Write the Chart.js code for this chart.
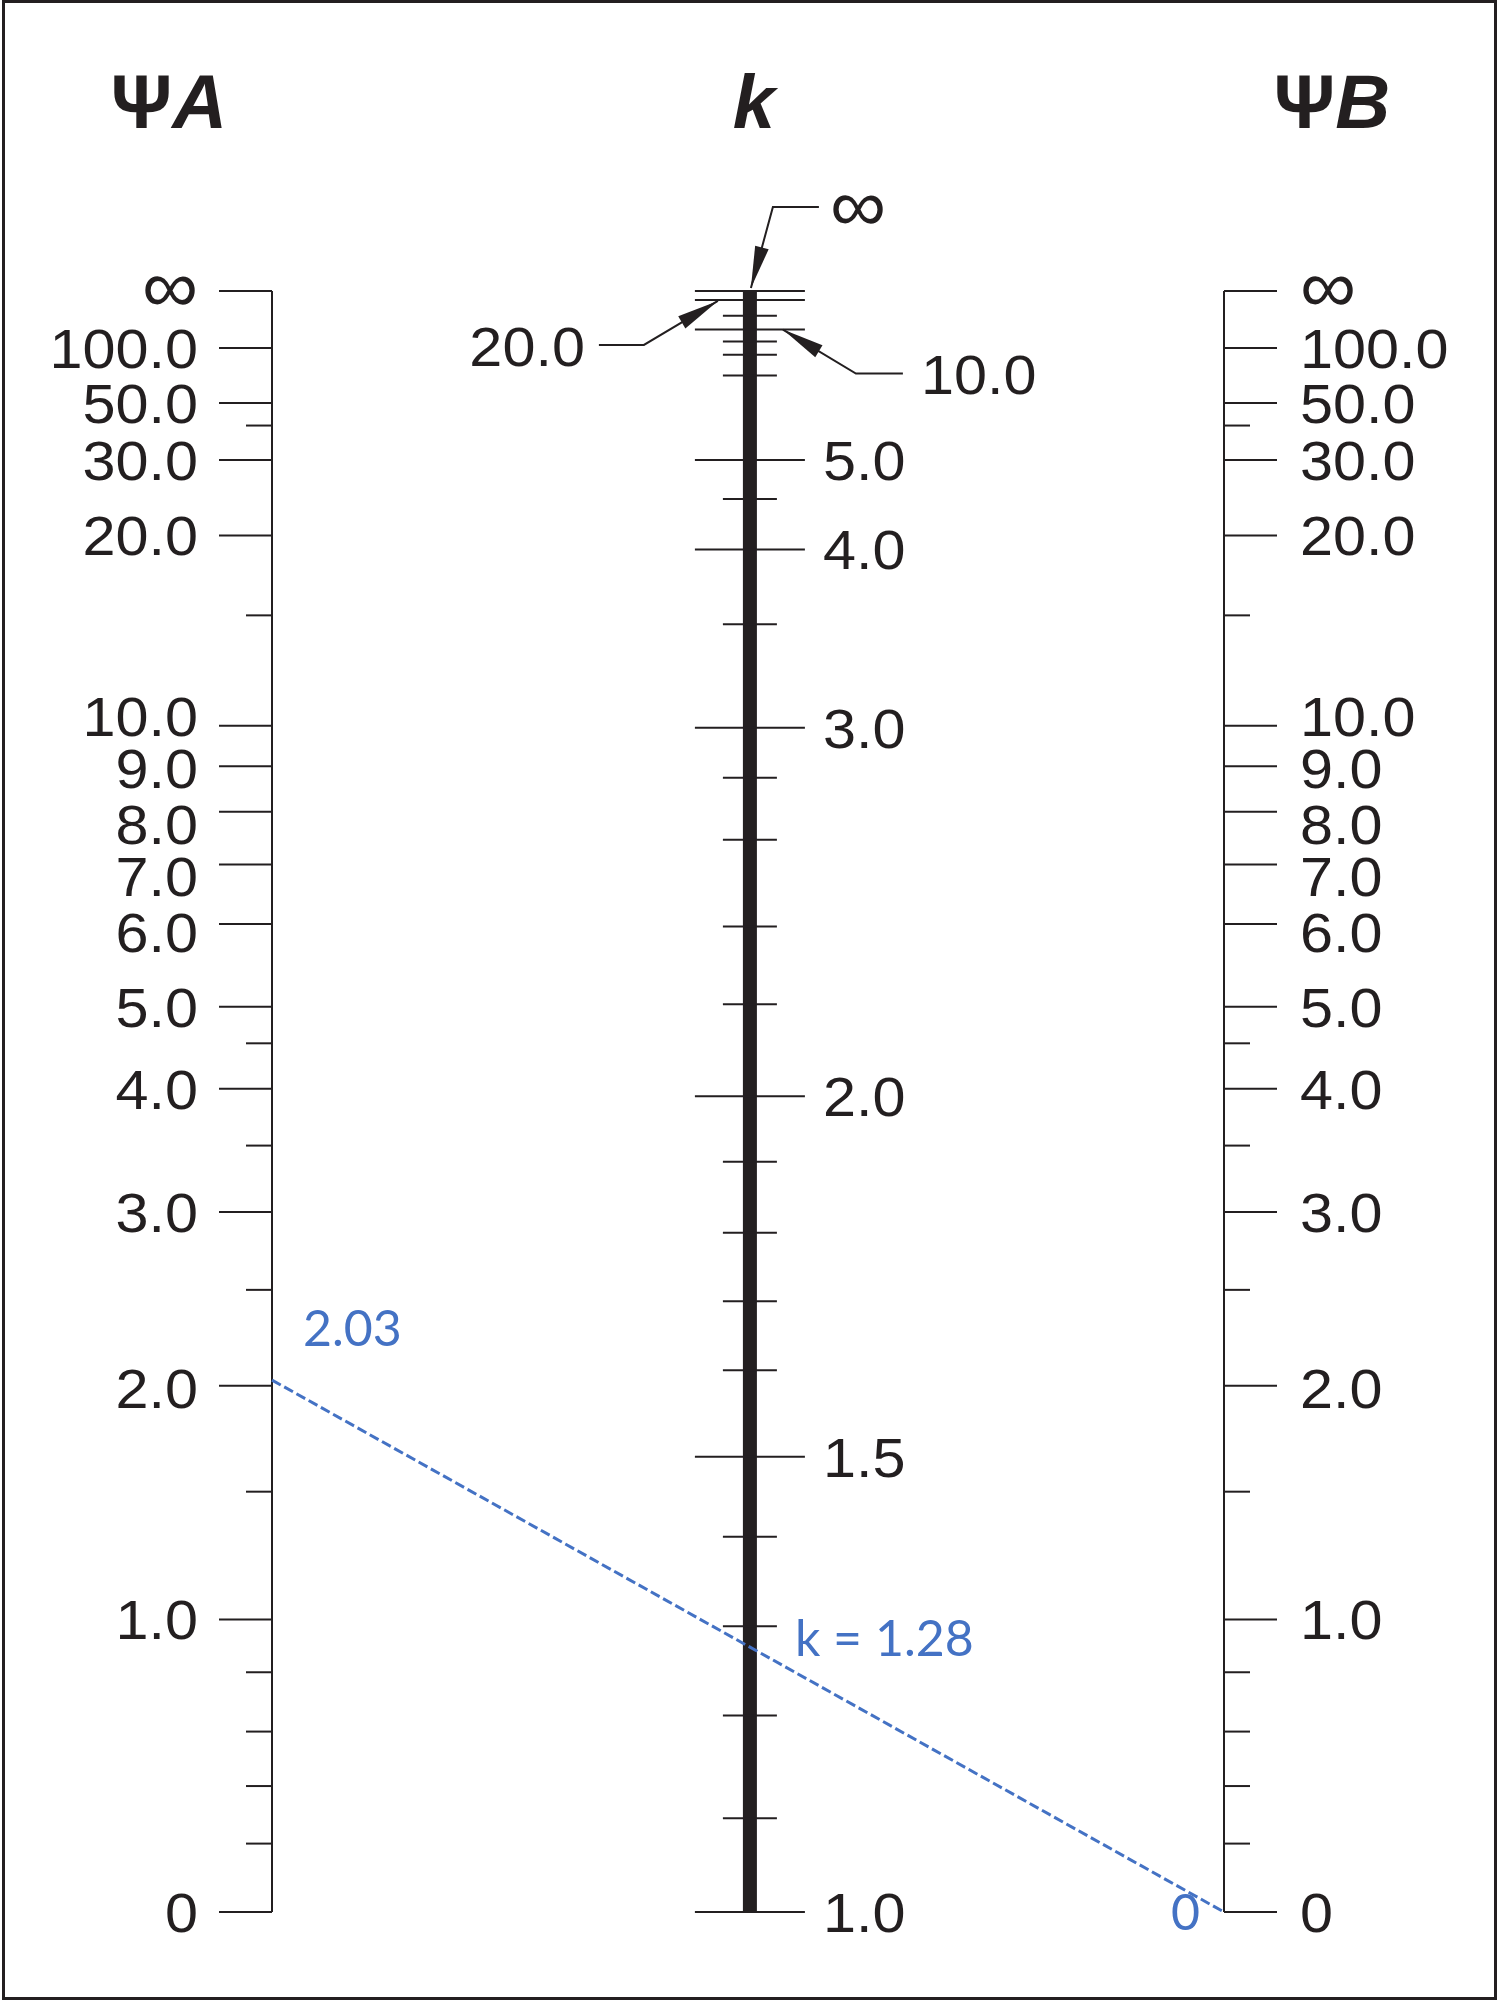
<!DOCTYPE html>
<html>
<head>
<meta charset="utf-8">
<script src="https://cdn.jsdelivr.net/npm/chart.js@4.4.1/dist/chart.umd.min.js"></script>
<style>
  html, body { margin: 0; padding: 0; background: #fff; }
  #wrap { position: relative; width: 1500px; height: 2000px; }
</style>
</head>
<body>
<div id="wrap"><canvas id="chart" width="1500" height="2000"></canvas></div>
<script>
// psi scale (same for A and B): labelled ticks, place along the scale in % of its length from the bottom
const psiLabels = ['∞', '100.0', '50.0', '30.0', '20.0', '10.0', '9.0', '8.0', '7.0', '6.0', '5.0', '4.0', '3.0', '2.0', '1.0', '0'];
const psiValues = [Infinity, 100, 50, 30, 20, 10, 9, 8, 7, 6, 5, 4, 3, 2, 1, 0];
const psiPos = [100, 96.49, 93.09, 89.58, 84.92, 73.18, 70.68, 67.87, 64.62, 60.95, 55.85, 50.78, 43.18, 32.46, 18.05, 0];
const psiMinorValues = [40, 15, 4.5, 3.5, 2.5, 1.5, 0.8, 0.6, 0.4, 0.2];
const psiMinorPos = [91.70, 79.99, 53.59, 47.28, 38.38, 25.93, 14.79, 11.13, 7.77, 4.22];

// k scale
const kLabels = ['∞', '20.0', '10.0', '5.0', '4.0', '3.0', '2.0', '1.5', '1.0'];
const kValues = [Infinity, 20, 10, 5, 4, 3, 2, 1.5, 1];
const kPos = [100, 99.45, 97.62, 89.57, 84.06, 73.06, 50.33, 28.08, 0];
const kMinorValues = [15, 9, 8, 7, 4.5, 3.5, 2.8, 2.6, 2.4, 2.2, 1.9, 1.8, 1.7, 1.6, 1.4, 1.3, 1.2, 1.1];
const kMinorPos = [98.48, 96.88, 96.06, 94.78, 87.17, 79.44, 69.97, 66.15, 60.79, 56.00, 46.28, 41.91, 37.67, 33.42, 23.15, 17.63, 12.12, 5.79];

// worked example drawn on top
const psiA = 2.03;
const psiB = 0;
const kResult = 1.28;

const ink = '#231f20';
const blue = '#4472C4';
const tickFont = '56px "Liberation Sans", Arial, sans-serif';
const infFont = '74px "Liberation Sans", Arial, sans-serif';
const titleFont = '76px "Liberation Sans", Arial, sans-serif';
const noteFont = '50px Lato, "Open Sans", sans-serif';
const stretch = 1.06;
const kAxisX = 0.502;
// small vertical nudges of crowded psi labels (px)
const psiNudge = { '10.0': -10, '9.0': 2, '8.0': 12, '7.0': 11, '6.0': 8, '2.0': 2 };

// place of a value on a scale, by interpolating between its ticks
function posOf(values, pos, minorValues, minorPos, v) {
    const pts = [];
    values.forEach((val, i) => { if (isFinite(val)) pts.push([val, pos[i]]); });
    minorValues.forEach((val, i) => pts.push([val, minorPos[i]]));
    pts.sort((a, b) => a[0] - b[0]);
    for (let i = 0; i < pts.length - 1; i++) {
        if (v >= pts[i][0] && v <= pts[i + 1][0]) {
            const t = (v - pts[i][0]) / (pts[i + 1][0] - pts[i][0]);
            return pts[i][1] + t * (pts[i + 1][1] - pts[i][1]);
        }
    }
    return pts[pts.length - 1][1];
}

// tick label centred on y; the infinity sign is drawn bigger like in the print
function label(ctx, text, x, y, align) {
    ctx.save();
    ctx.translate(x, y);
    ctx.scale(stretch, 1);
    ctx.textAlign = align;
    ctx.textBaseline = 'alphabetic';
    if (text === '∞') {
        ctx.font = infFont;
        ctx.fillText(text, 0, 21);
    } else {
        ctx.font = tickFont;
        ctx.fillText(text, 0, 20);
    }
    ctx.restore();
}

function arrowHead(ctx, fx, fy, tx, ty) {
    const a = Math.atan2(ty - fy, tx - fx);
    const len = 42, hw = 7;
    const bx = tx - len * Math.cos(a), by = ty - len * Math.sin(a);
    ctx.beginPath();
    ctx.moveTo(tx, ty);
    ctx.lineTo(bx + hw * Math.sin(a), by - hw * Math.cos(a));
    ctx.lineTo(bx - hw * Math.sin(a), by + hw * Math.cos(a));
    ctx.closePath();
    ctx.fill();
}

function leader(ctx, tx, ty, ex, ey, endX) {
    ctx.beginPath();
    ctx.moveTo(endX, ey);
    ctx.lineTo(ex, ey);
    ctx.lineTo(tx, ty);
    ctx.stroke();
    arrowHead(ctx, ex, ey, tx, ty);
}

function title(ctx, parts, cx, base) {
    let w = 0;
    parts.forEach(p => { ctx.font = p[1]; w += ctx.measureText(p[0]).width; });
    let x = cx - w / 2;
    ctx.textAlign = 'left';
    parts.forEach(p => { ctx.font = p[1]; ctx.fillText(p[0], x, base); x += ctx.measureText(p[0]).width; });
}

const nomograph = {
    id: 'nomograph',
    beforeDatasetsDraw(chart) {
        const ctx = chart.ctx;
        const xs = chart.scales.x, ys = chart.scales.y;
        ctx.save();
        ctx.strokeStyle = ink;
        ctx.fillStyle = ink;
        ctx.lineCap = 'butt';

        // frame
        ctx.lineWidth = 3;
        ctx.strokeRect(3.5, 1.5, 1492, 1997);

        // psi scales
        [[0, -1], [1, 1]].forEach(([xv, side]) => {
            const ax = xs.getPixelForValue(xv);
            ctx.lineWidth = 2;
            ctx.beginPath();
            ctx.moveTo(ax, ys.getPixelForValue(100));
            ctx.lineTo(ax, ys.getPixelForValue(0));
            ctx.stroke();
            psiPos.forEach(p => {
                const y = ys.getPixelForValue(p);
                ctx.beginPath(); ctx.moveTo(ax, y); ctx.lineTo(ax + side * 53, y); ctx.stroke();
            });
            psiMinorPos.forEach(p => {
                const y = ys.getPixelForValue(p);
                ctx.beginPath(); ctx.moveTo(ax, y); ctx.lineTo(ax + side * 26, y); ctx.stroke();
            });
            psiLabels.forEach((lab, i) => {
                const y = ys.getPixelForValue(psiPos[i]) + (psiNudge[lab] || 0);
                if (side < 0) label(ctx, lab, ax - 74, y, 'right');
                else label(ctx, lab, ax + 76, y, 'left');
            });
        });

        // k scale
        const kx = xs.getPixelForValue(kAxisX);
        const kTop = ys.getPixelForValue(100), kBot = ys.getPixelForValue(0);
        ctx.fillRect(kx - 7, kTop, 14, kBot - kTop);
        ctx.lineWidth = 2;
        kPos.forEach(p => {
            const y = ys.getPixelForValue(p);
            ctx.beginPath(); ctx.moveTo(kx - 55, y); ctx.lineTo(kx + 55, y); ctx.stroke();
        });
        kMinorPos.forEach(p => {
            const y = ys.getPixelForValue(p);
            ctx.beginPath(); ctx.moveTo(kx - 27, y); ctx.lineTo(kx + 27, y); ctx.stroke();
        });
        kLabels.forEach((lab, i) => {
            const y = ys.getPixelForValue(kPos[i]);
            if (lab === '∞') {
                leader(ctx, kx + 1, y - 3, kx + 23, y - 84, kx + 69);
                label(ctx, lab, kx + 80, y - 81, 'left');
            } else if (lab === '20.0') {
                leader(ctx, kx - 32, y + 1, kx - 106, y + 45, kx - 151);
                label(ctx, lab, kx - 165, y + 46, 'right');
            } else if (lab === '10.0') {
                leader(ctx, kx + 33, y, kx + 106, y + 44, kx + 153);
                label(ctx, lab, kx + 171, y + 44, 'left');
            } else {
                label(ctx, lab, kx + 73, y, 'left');
            }
        });

        // titles
        ctx.fillStyle = ink;
        const tb = 128;
        title(ctx, [['Ψ', 'bold ' + titleFont], ['A', 'italic bold ' + titleFont]], xs.getPixelForValue(0) - 103, tb);
        title(ctx, [['k', 'italic bold ' + titleFont]], kx + 4, tb);
        title(ctx, [['Ψ', 'bold ' + titleFont], ['B', 'italic bold ' + titleFont]], xs.getPixelForValue(1) + 108, tb);
        ctx.restore();
    },
    afterDatasetsDraw(chart) {
        const ctx = chart.ctx;
        const xs = chart.scales.x, ys = chart.scales.y;
        const yA = ys.getPixelForValue(posOf(psiValues, psiPos, psiMinorValues, psiMinorPos, psiA));
        const yB = ys.getPixelForValue(posOf(psiValues, psiPos, psiMinorValues, psiMinorPos, psiB));
        const xA = xs.getPixelForValue(0), xB = xs.getPixelForValue(1);
        const kx = xs.getPixelForValue(kAxisX);
        const yK = yA + (yB - yA) * (kx - xA) / (xB - xA);
        ctx.save();
        ctx.fillStyle = blue;
        ctx.font = noteFont;
        ctx.textBaseline = 'alphabetic';
        ctx.textAlign = 'left';
        ctx.fillText(psiA.toFixed(2), xA + 31, yA - 34);
        ctx.fillText('k = ' + kResult.toFixed(2), kx + 45, yK + 9);
        ctx.textAlign = 'right';
        ctx.fillText(String(psiB), xB - 24, yB + 18);
        ctx.restore();
    }
};

const ctx = document.getElementById('chart').getContext('2d');

new Chart(ctx, {
    type: 'scatter',
    data: {
        datasets: [{
            data: [
                { x: 0, y: posOf(psiValues, psiPos, psiMinorValues, psiMinorPos, psiA) },
                { x: 1, y: posOf(psiValues, psiPos, psiMinorValues, psiMinorPos, psiB) }
            ],
            showLine: true,
            borderColor: blue,
            borderWidth: 3,
            borderDash: [10, 4],
            pointRadius: 0,
            clip: false
        }]
    },
    options: {
        responsive: false,
        animation: false,
        devicePixelRatio: 1,
        events: [],
        layout: { padding: { left: 272, right: 276, top: 291, bottom: 88 } },
        plugins: { legend: { display: false }, tooltip: { enabled: false } },
        scales: {
            x: { type: 'linear', min: 0, max: 1, display: false },
            y: { type: 'linear', min: 0, max: 100, display: false }
        }
    },
    plugins: [nomograph]
});
</script>
</body>
</html>
